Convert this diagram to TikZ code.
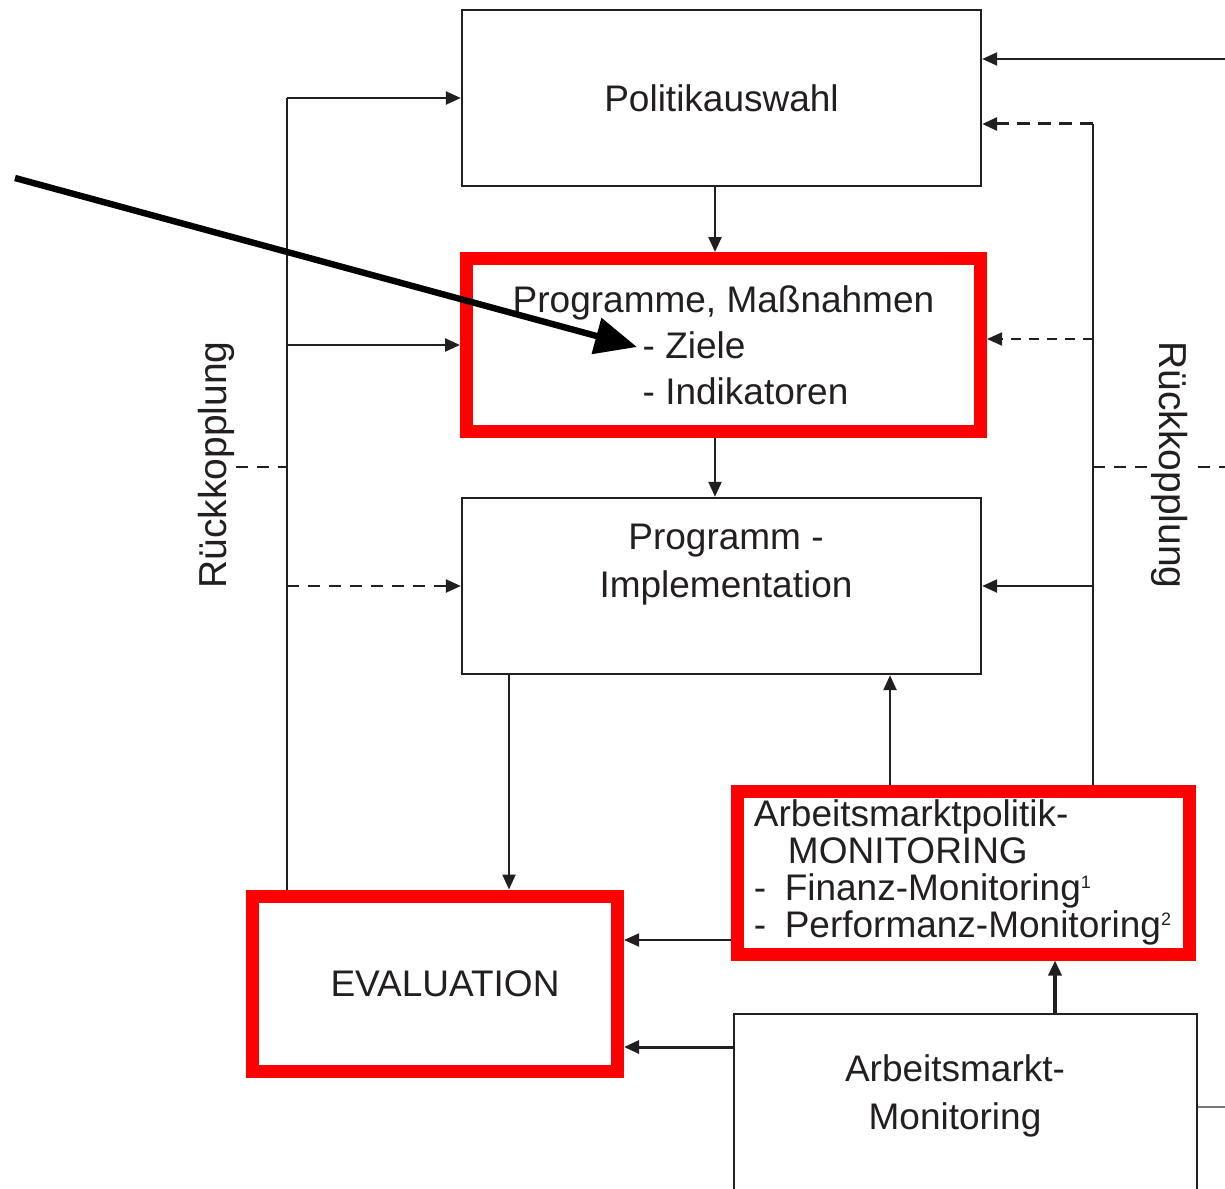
\documentclass[tikz,border=0pt]{standalone}
\usepackage{fontspec}
\setmainfont{Liberation Sans}
\usetikzlibrary{arrows.meta, positioning, calc}
\definecolor{colRed}{RGB}{255,0,0}
\definecolor{colLine}{RGB}{35,31,32}
\definecolor{colThin}{RGB}{120,120,120}
\tikzset{
  box/.style={
    rectangle, draw=colLine, line width=1.2pt,
    text=colLine, font=\fontsize{18.5}{23}\selectfont,
    align=center, inner sep=0pt
  },
  plainBox/.style={box, minimum width=259.5pt, minimum height=88pt},
  redBox/.style={box, draw=colRed, line width=6.5pt},
  arr/.style={
    -{Triangle[length=7.5pt, width=6.5pt]}, line width=1.2pt, color=colLine
  },
  dashArr/.style={arr, dash pattern=on 6pt off 4.5pt},
  dashLine/.style={line width=1.2pt, color=colLine, dash pattern=on 6pt off 4.5pt},
  feedLine/.style={line width=1.3pt, color=colLine},
  lbl/.style={text=colLine, font=\fontsize{18.5}{24}\selectfont, align=center, inner sep=1pt},
  bigArr/.style={-{Triangle[length=21pt, width=18pt]}, line width=3.2pt, color=black}
}

\begin{document}
\begin{tikzpicture}[x=0.5pt, y=-0.5pt]
  \useasboundingbox (0,0) rectangle (1225,1188);

  % channels
  \coordinate (xL) at (287,0);
  \coordinate (xR) at (1093,0);
  \coordinate (xMid) at (715,0);
  \coordinate (xDn) at (509,0);
  \coordinate (xUp) at (890,0);
  \coordinate (xAM) at (1055,0);

  \node[plainBox] (pol) at (721.5,98) {Politikauswahl};
  \node[redBox, align=left, minimum width=257pt, minimum height=86.5pt] (prog) at (723.5,345)
    {Programme, Maßnahmen\\\hspace*{65pt}- Ziele\\\hspace*{65pt}- Indikatoren};
  \node[plainBox] (impl) at (721.5,586) {};
  \node[lbl] (implText) at (726,565) {Programm -\\Implementation};
  \node[redBox, align=left, minimum width=226pt, minimum height=81.5pt,
        font=\fontsize{18.5}{18.5}\selectfont] (mon) at (963,872.5)
    {Arbeitsmarktpolitik-\\\hspace*{17pt}MONITORING\\
     -\enspace Finanz-Monitoring\textsuperscript{\fontsize{9}{9}\selectfont 1}\\
     -\enspace Performanz-Monitoring\textsuperscript{\fontsize{9}{9}\selectfont 2}};
  \node[redBox, minimum width=182.5pt, minimum height=87.5pt] (eval) at (435,983.5) {\hspace*{10pt}EVALUATION};
  \node[plainBox, minimum width=231.5pt, minimum height=93pt] (am) at (965.5,1107) {};
  \node[lbl] (amText) at (955,1096) {Arbeitsmarkt-\\Monitoring};

  % main chain
  \draw[arr] (pol.south -| xMid) -- (prog.north -| xMid);
  \draw[arr] (prog.south -| xMid) -- (impl.north -| xMid);
  \draw[arr] (impl.south -| xDn) -- (eval.north -| xDn);

  % left feedback
  \draw[feedLine] (eval.north -| xL) -- (pol.west -| xL);
  \draw[arr] (pol.west -| xL) -- (pol.west);
  \draw[arr] (prog.west -| xL) -- (prog.west);
  \draw[dashArr] (impl.west -| xL) -- (impl.west);
  \coordinate (stubL) at (236,467);
  \draw[dashLine] (stubL) -- (stubL -| xL);
  \node[lbl, rotate=90, font=\fontsize{19.5}{24}\selectfont] (fbLeft) at (216,465) {Rückkopplung};

  % right feedback
  \coordinate (yPolFb) at (0,124);
  \coordinate (yProgFb) at (0,339);
  \draw[feedLine] (mon.north -| xR) -- (xR |- yPolFb);
  \draw[dashArr, line width=1.5pt, dash pattern=on 6.5pt off 4pt] (xR |- yPolFb) -- (pol.east |- yPolFb);
  \draw[dashArr, line width=0.9pt, dash pattern=on 5pt off 4pt] (xR |- yProgFb) -- (prog.east |- yProgFb);
  \draw[arr] (impl.east -| xR) -- (impl.east);
  \coordinate (stubR) at (1225,467);
  \draw[dashLine] (stubR -| xR) -- (stubR);
  \node[lbl, rotate=-90, fill=white, font=\fontsize{19.5}{24}\selectfont] (fbRight) at (1170,465) {Rückkopplung};

  % input from the right
  \coordinate (inTop) at (1225,59);
  \draw[arr] (inTop) -- (inTop -| pol.east);

  % monitoring
  \coordinate (yM) at (0,940);
  \coordinate (yA) at (0,1047);
  \coordinate (outAM) at (1225,1107);
  \draw[arr] (mon.north -| xUp) -- (impl.south -| xUp);
  \draw[arr, line width=0.9pt] (mon.west |- yM) -- (eval.east |- yM);
  \draw[arr, line width=1.7pt] (am.north -| xAM) -- (mon.south -| xAM);
  \draw[arr, line width=1.5pt] (am.west |- yA) -- (eval.east |- yA);
  \draw[colThin, line width=0.6pt] (am.east |- outAM) -- (outAM);

  % pointer
  \coordinate (ptrStart) at (15,178);
  \coordinate (ptrEnd) at (637,347);
  \draw[bigArr] (ptrStart) -- (ptrEnd);

\end{tikzpicture}
\end{document}
